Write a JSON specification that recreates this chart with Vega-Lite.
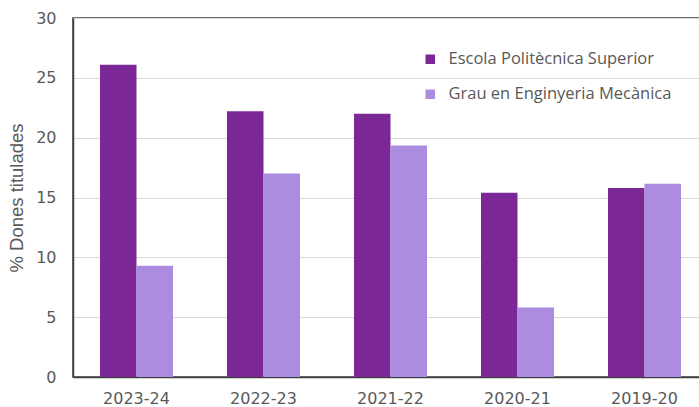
{
  "$schema": "https://vega.github.io/schema/vega-lite/v6.json",
  "autosize": {"type": "none"},
  "padding": {"left": 73, "top": 18, "right": 0, "bottom": 30},
  "width": 635,
  "height": 359,
  "background": "white",
  "config": {
    "view": {"stroke": "#404040", "strokeWidth": 1.5},
    "font": "DejaVu Sans"
  },
  "data": {
    "values": [
      {"curs": "2023-24", "serie": "Escola Politècnica Superior", "valor": 26.1},
      {"curs": "2023-24", "serie": "Grau en Enginyeria Mecànica", "valor": 9.3},
      {"curs": "2022-23", "serie": "Escola Politècnica Superior", "valor": 22.2},
      {"curs": "2022-23", "serie": "Grau en Enginyeria Mecànica", "valor": 17.0},
      {"curs": "2021-22", "serie": "Escola Politècnica Superior", "valor": 22.0},
      {"curs": "2021-22", "serie": "Grau en Enginyeria Mecànica", "valor": 19.35},
      {"curs": "2020-21", "serie": "Escola Politècnica Superior", "valor": 15.4},
      {"curs": "2020-21", "serie": "Grau en Enginyeria Mecànica", "valor": 5.8},
      {"curs": "2019-20", "serie": "Escola Politècnica Superior", "valor": 15.8},
      {"curs": "2019-20", "serie": "Grau en Enginyeria Mecànica", "valor": 16.15}
    ]
  },
  "mark": {"type": "bar"},
  "encoding": {
    "x": {
      "field": "curs",
      "type": "nominal",
      "sort": null,
      "scale": {"paddingInner": 0.425, "paddingOuter": 0.2125},
      "axis": {
        "title": null,
        "labelAngle": 0,
        "labelFont": "DejaVu Sans",
        "labelFontSize": 16,
        "labelColor": "#595959",
        "labelPadding": 13,
        "ticks": false,
        "domain": true,
        "domainColor": "#404040",
        "domainWidth": 1.5
      }
    },
    "xOffset": {"field": "serie", "type": "nominal"},
    "y": {
      "field": "valor",
      "type": "quantitative",
      "scale": {"domain": [0, 30], "nice": false},
      "axis": {
        "title": "% Dones titulades",
        "titleFont": "Liberation Sans",
        "titleFontSize": 18.5,
        "titleFontWeight": "normal",
        "titleColor": "#595959",
        "titlePadding": 9,
        "values": [0, 5, 10, 15, 20, 25, 30],
        "labelFont": "DejaVu Sans",
        "labelFontSize": 16,
        "labelColor": "#595959",
        "labelPadding": 17,
        "ticks": false,
        "domainColor": "#404040",
        "domainWidth": 1.5,
        "gridColor": "#D9D9D9",
        "gridWidth": 1
      }
    },
    "color": {
      "field": "serie",
      "type": "nominal",
      "scale": {
        "domain": ["Escola Politècnica Superior", "Grau en Enginyeria Mecànica"],
        "range": ["#7B2896", "#AB8CE0"]
      },
      "legend": {
        "title": null,
        "orient": "none",
        "legendX": 349,
        "legendY": 33,
        "symbolType": "square",
        "symbolSize": 90,
        "symbolStrokeWidth": 0,
        "labelFontSize": 16.5,
        "labelColor": "#595959",
        "labelFont": "Open Sans",
        "labelLimit": 0,
        "labelOffset": 10,
        "rowPadding": 18
      }
    }
  }
}
